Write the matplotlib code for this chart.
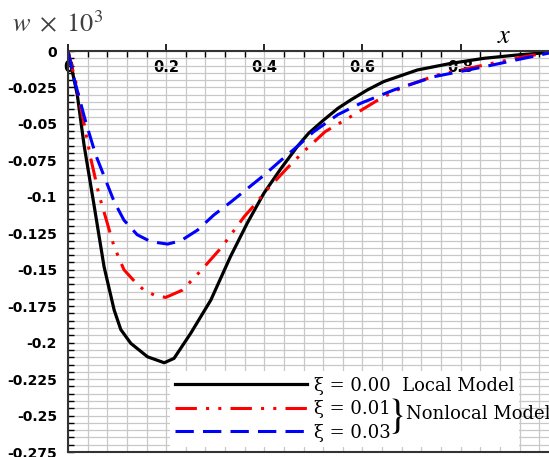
import numpy as np
import matplotlib.pyplot as plt
from matplotlib.ticker import FixedLocator, MultipleLocator

plt.rcParams['mathtext.fontset'] = 'stix'
plt.rcParams['axes.unicode_minus'] = False

# xi = 0.00 (local model)
x_local = [0, 0.019, 0.0327, 0.053, 0.0735, 0.094, 0.1075, 0.128, 0.162, 0.196, 0.216,
           0.25, 0.291, 0.331, 0.365, 0.399, 0.433, 0.467, 0.49, 0.521, 0.55, 0.576,
           0.61, 0.643, 0.712, 0.78, 0.848, 0.916, 0.98, 1.0]
w_local = [0, -0.0302, -0.0645, -0.1056, -0.148, -0.1776, -0.191, -0.2005, -0.2097,
           -0.2138, -0.2108, -0.1936, -0.1708, -0.141, -0.1182, -0.0976, -0.081,
           -0.0656, -0.0565, -0.0473, -0.0393, -0.0336, -0.0267, -0.021, -0.013,
           -0.0085, -0.005, -0.0027, -0.001, 0]

# xi = 0.01
x_nl1 = [0, 0.0157, 0.0292, 0.0463, 0.0633, 0.094, 0.114, 0.138, 0.155, 0.176, 0.199,
         0.233, 0.25, 0.269, 0.308, 0.324, 0.359, 0.375, 0.405, 0.446, 0.48, 0.524,
         0.576, 0.637, 0.684, 0.752, 0.848, 0.929, 1.0]
w_nl1 = [0, -0.021, -0.0439, -0.0736, -0.0988, -0.1342, -0.150, -0.1589, -0.164,
         -0.1674, -0.169, -0.164, -0.158, -0.1513, -0.1365, -0.1296, -0.1136, -0.1075,
         -0.0953, -0.0805, -0.069, -0.0553, -0.045, -0.0325, -0.0245, -0.0165,
         -0.0096, -0.0039, 0]

# xi = 0.03
x_nl3 = [0, 0.0122, 0.036, 0.0565, 0.094, 0.114, 0.141, 0.169, 0.203, 0.23, 0.264,
         0.297, 0.332, 0.365, 0.4, 0.433, 0.467, 0.5, 0.55, 0.596, 0.664, 0.746,
         0.848, 0.929, 1.0]
w_nl3 = [0, -0.0187, -0.0485, -0.0713, -0.1033, -0.116, -0.126, -0.1308, -0.1324,
         -0.1301, -0.1228, -0.1125, -0.1035, -0.0945, -0.085, -0.0752, -0.0655,
         -0.0555, -0.0436, -0.0359, -0.0267, -0.0176, -0.0108, -0.005, 0]

xticks = [0, 0.2, 0.4, 0.6, 0.8]
xtick_labels = ['0', '0.2', '0.4', '0.6', '0.8']
yticks = [0, -0.025, -0.05, -0.075, -0.1, -0.125, -0.15, -0.175, -0.2, -0.225, -0.25, -0.275]
ytick_labels = ['0', '-0.025', '-0.05', '-0.075', '-0.1', '-0.125', '-0.15', '-0.175',
                '-0.2', '-0.225', '-0.25', '-0.275']
labels = ['ξ = 0.00  Local Model', 'ξ = 0.01', 'ξ = 0.03']

W, H = 549, 457
fig = plt.figure(figsize=(W / 100, H / 100), dpi=100)
ax = fig.add_axes([68 / W, 1 - 452 / H, 1 - 68 / W, 401 / H])

l1, = ax.plot(x_local, w_local, color='black', lw=2.3, solid_joinstyle='round')
l2, = ax.plot(x_nl1, w_nl1, color='red', lw=2.2, dashes=(7, 3, 1, 3, 1, 3))
l3, = ax.plot(x_nl3, w_nl3, color='blue', lw=2.2, dashes=(6, 3))

ax.set_xlim(0, 0.98)
ax.set_ylim(-0.275, 0)

ax.xaxis.set_ticks_position('top')
ax.xaxis.set_major_locator(FixedLocator(xticks))
ax.xaxis.set_minor_locator(MultipleLocator(0.04))
ax.set_xticklabels(xtick_labels, fontweight='bold', fontsize=10.5)
ax.yaxis.set_major_locator(FixedLocator(yticks))
ax.yaxis.set_minor_locator(MultipleLocator(0.005))
ax.set_yticklabels(ytick_labels, fontweight='bold', fontsize=10)

ax.tick_params(axis='x', which='major', direction='out', length=5, width=1.2, pad=-22)
ax.tick_params(axis='x', which='minor', direction='in', length=4, width=1)
ax.tick_params(axis='y', which='both', direction='in', length=4, width=1, pad=8)

ax.grid(True, which='both', color='#c8c8c8', lw=0.9)
ax.set_axisbelow(True)
ax.spines['right'].set_visible(False)
for s in ['top', 'left', 'bottom']:
    ax.spines[s].set_color('#333333')
    ax.spines[s].set_linewidth(1.5)

leg = ax.legend([l1, l2, l3], labels, loc='lower left',
                bbox_to_anchor=(170 / W, 1 - 447 / H), bbox_transform=fig.transFigure,
                frameon=True, fancybox=False, framealpha=1, edgecolor='none',
                facecolor='white', borderaxespad=0, borderpad=0.3,
                handlelength=7.3, handletextpad=0.35, labelspacing=0.3,
                prop={'family': 'DejaVu Serif', 'size': 13})

fig.text(387 / W, 1 - 416 / H, '}', fontsize=30, family='STIXGeneral',
         va='center', ha='left', zorder=5)
fig.text(406 / W, 1 - 414 / H, 'Nonlocal Model', fontsize=13, family='DejaVu Serif',
         va='center', ha='left', zorder=5)

fig.text(12 / W, 1 - 25 / H, r'$w\ \times\ 10^3$', fontsize=19, color='#404040',
         va='center', ha='left')
fig.text(497 / W, 1 - 36 / H, r'$x$', fontsize=19, va='center', ha='left')

fig.savefig('out.png', dpi=100)
